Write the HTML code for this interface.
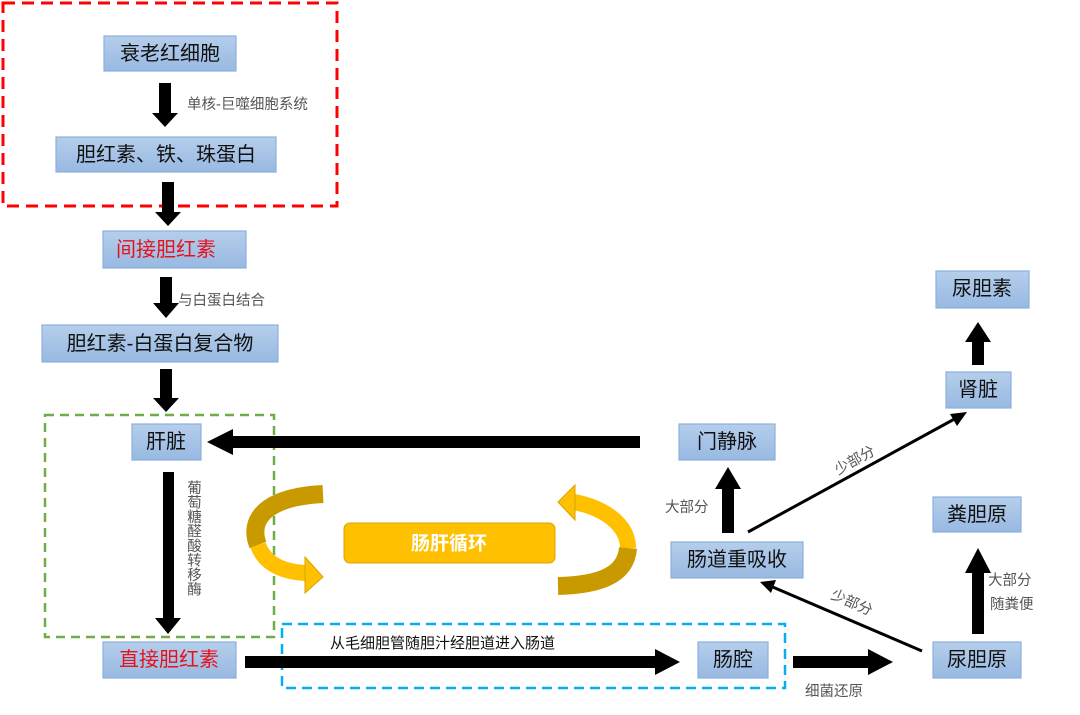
<!DOCTYPE html>
<html><head><meta charset="utf-8"><style>
body{margin:0;background:#fff;}
svg text{font-family:"Liberation Sans","Noto Sans CJK SC",sans-serif;}
.b{fill:url(#g);stroke:#8DB0DC;stroke-width:1.2;}
.t{font-size:20px;fill:#111;text-anchor:middle;dominant-baseline:central;}
.r{fill:#E8101A;}
.l{font-size:14.5px;fill:#555;}
</style></head><body>
<svg width="1080" height="710" viewBox="0 0 1080 710" xmlns="http://www.w3.org/2000/svg">
<defs>
<linearGradient id="g" x1="0" y1="0" x2="0" y2="1"><stop offset="0" stop-color="#B5CEEB"/><stop offset="1" stop-color="#98B9E2"/></linearGradient>
</defs>
<!-- dashed boxes -->
<rect x="3" y="3" width="334" height="203" fill="none" stroke="#FF0000" stroke-width="3" stroke-dasharray="12,7"/>
<rect x="45" y="415" width="229" height="222" fill="none" stroke="#70AD47" stroke-width="2.5" stroke-dasharray="9,6"/>
<rect x="282" y="624" width="503" height="64" fill="none" stroke="#00B0F0" stroke-width="2.5" stroke-dasharray="10,6"/>

<!-- boxes -->
<rect class="b" x="104" y="36" width="132" height="35"/><text class="t" x="170" y="54">衰老红细胞</text>
<rect class="b" x="56" y="137" width="220" height="35"/><text class="t" x="166" y="155">胆红素、铁、珠蛋白</text>
<rect class="b" x="103" y="231" width="143" height="37"/><text class="t r" x="166" y="250">间接胆红素</text>
<rect class="b" x="42" y="325" width="236" height="37"/><text class="t" x="160" y="344">胆红素-白蛋白复合物</text>
<rect class="b" x="132" y="424" width="69" height="36"/><text class="t" x="166" y="442">肝脏</text>
<rect class="b" x="103" y="642" width="133" height="36"/><text class="t r" x="169" y="660">直接胆红素</text>
<rect class="b" x="698" y="642" width="70" height="36"/><text class="t" x="733" y="660">肠腔</text>
<rect class="b" x="933" y="642" width="88" height="36"/><text class="t" x="977" y="660">尿胆原</text>
<rect class="b" x="933" y="497" width="88" height="35"/><text class="t" x="977" y="515">粪胆原</text>
<rect class="b" x="671" y="542" width="132" height="36"/><text class="t" x="737" y="560">肠道重吸收</text>
<rect class="b" x="679" y="424" width="96" height="36"/><text class="t" x="727" y="442">门静脉</text>
<rect class="b" x="946" y="372" width="65" height="36"/><text class="t" x="978" y="390">肾脏</text>
<rect class="b" x="936" y="271" width="93" height="37"/><text class="t" x="982" y="289">尿胆素</text>

<!-- thick arrows -->
<g fill="#000">
<rect x="159" y="83" width="12" height="31"/><polygon points="152,113 178,113 165,127"/>
<rect x="162" y="182" width="12" height="31"/><polygon points="155,212 181,212 168,226"/>
<rect x="160" y="277" width="12" height="27"/><polygon points="153,303 179,303 166,318"/>
<rect x="160" y="369" width="12" height="30"/><polygon points="153,398 179,398 166,412"/>
<rect x="163" y="472" width="11" height="147"/><polygon points="155,618 181,618 168,634"/>
<rect x="245" y="656" width="411" height="12"/><polygon points="655,649 655,675 680,662"/>
<rect x="793" y="656" width="76" height="12"/><polygon points="868,649 868,675 893,662"/>
<rect x="972" y="572" width="12" height="62"/><polygon points="965,573 991,573 978,548"/>
<rect x="722" y="488" width="12" height="45"/><polygon points="715,489 741,489 728,467"/>
<rect x="972" y="341" width="12" height="24"/><polygon points="965,342 991,342 978,322"/>
<rect x="232" y="436" width="408" height="12"/><polygon points="233,429 233,455 207,442"/>
</g>
<!-- thin arrows -->
<g stroke="#000" stroke-width="3">
<line x1="748" y1="532" x2="960" y2="416"/>
<line x1="922" y1="651" x2="768" y2="585"/>
</g>
<polygon points="967,412 950,414 957,426" fill="#000"/>
<polygon points="760,582 776,580 771,593" fill="#000"/>

<!-- labels -->
<text class="l" x="187" y="109">单核-巨噬细胞系统</text>
<text class="l" x="178" y="305">与白蛋白结合</text>
<text x="193" y="480" style="font-size:14.5px;fill:#555;writing-mode:vertical-rl;">葡萄糖醛酸转移酶</text>
<text x="330" y="648" style="font-size:15px;fill:#111;">从毛细胆管随胆汁经胆道进入肠道</text>
<text class="l" x="805" y="696">细菌还原</text>
<text class="l" x="665" y="512">大部分</text>
<text class="l" x="988" y="585">大部分</text>
<text class="l" x="990" y="609">随粪便</text>
<text class="l" transform="translate(838,475) rotate(-29)">少部分</text>
<text class="l" transform="translate(830,598) rotate(24)">少部分</text>

<!-- enterohepatic -->
<rect x="344" y="523" width="211" height="40" rx="6" fill="#FFC000" stroke="#D9A300"/>
<text x="449" y="544" style="font-size:19px;fill:#fff;font-weight:bold;text-anchor:middle;dominant-baseline:central;">肠肝循环</text>
<path d="M323,494 C265,497 248,520 258,545" fill="none" stroke="#C99A00" stroke-width="18"/>
<path d="M258,545 C265,565 285,572 306,573" fill="none" stroke="#FFC000" stroke-width="16"/>
<polygon points="305,557 323,577 305,593" fill="#FFC000" stroke="#D9A300"/>
<path d="M574,502 C605,508 628,525 628,548" fill="none" stroke="#FFC000" stroke-width="16"/>
<path d="M628,548 C626,575 600,585 558,586" fill="none" stroke="#C99A00" stroke-width="18"/>
<polygon points="575,485 558,502 575,520" fill="#FFC000" stroke="#D9A300"/>
</svg>
</body></html>
